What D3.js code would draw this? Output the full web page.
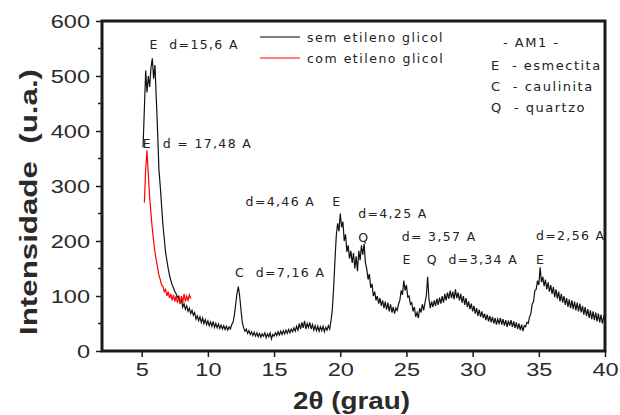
<!DOCTYPE html>
<html>
<head>
<meta charset="utf-8">
<script src="https://cdnjs.cloudflare.com/ajax/libs/d3/7.8.5/d3.min.js"></script>
<style>
  body { margin: 0; background: #fff; }
  svg { display: block; }
  .tick text { font-family: "Liberation Sans", Arial, sans-serif; font-size: 19px; fill: #2a2a2a; }
  .note { font-family: "DejaVu Sans", Verdana, sans-serif; font-size: 12.5px; fill: #222; letter-spacing: 1.35px; white-space: pre; }
  .leg { letter-spacing: 1.5px; }
</style>
</head>
<body>
<div id="chart"></div>
<script>
// XRD pattern, sample AM1 -- 2theta grid (deg) and intensity (u.a.)
const semStart = 5.1, semStep = 0.1;
const semEtileno = [
  370, 440, 510, 470, 500, 480, 515, 532, 495, 520,
  460, 400, 330, 300, 265, 230, 205, 180, 165, 150,
  138, 128, 120, 115, 108, 104, 98, 100, 88, 94,
  80, 86, 76, 82, 72, 78, 68, 74, 65, 70,
  58, 64, 55, 62, 52, 60, 50, 57, 48, 55,
  46, 53, 45, 54, 43, 50, 42, 49, 41, 47,
  40, 46, 39, 45, 38, 44, 40, 48, 52, 65,
  85, 105, 117, 100, 75, 52, 42, 36, 40, 32,
  37, 30, 35, 28, 34, 27, 33, 26, 32, 25,
  31, 27, 33, 24, 31, 26, 33, 22, 30, 27,
  33, 28, 35, 29, 36, 30, 37, 31, 38, 32,
  39, 33, 40, 35, 42, 36, 45, 38, 50, 40,
  52, 42, 55, 40, 50, 43, 52, 40, 48, 38,
  46, 37, 45, 36, 44, 37, 45, 35, 43, 38,
  46, 40, 55, 75, 115, 165, 210, 232, 218, 250,
  225, 235, 200, 212, 180, 192, 168, 182, 160, 178,
  150, 172, 145, 182, 165, 192, 175, 195, 160, 150,
  130, 140, 115, 122, 100, 108, 92, 100, 86, 96,
  82, 92, 78, 90, 75, 88, 72, 85, 70, 80,
  68, 78, 74, 85, 92, 110, 102, 128, 110, 120,
  98, 100, 85, 88, 72, 80, 62, 70, 60, 78,
  70, 85, 74, 88, 100, 135, 95, 78, 90, 80,
  92, 82, 95, 84, 97, 86, 100, 88, 104, 92,
  106, 95, 110, 96, 108, 94, 112, 96, 106, 92,
  104, 88, 100, 84, 96, 80, 90, 76, 86, 72,
  82, 68, 78, 64, 75, 62, 72, 60, 68, 56,
  66, 54, 64, 52, 62, 50, 60, 48, 58, 50,
  60, 48, 58, 46, 56, 44, 55, 46, 56, 44,
  54, 42, 52, 40, 50, 38, 48, 36, 46, 44,
  52, 50, 62, 68, 85, 90, 110, 112, 128, 120,
  152, 125, 135, 118, 130, 112, 125, 108, 120, 104,
  116, 98, 112, 95, 108, 90, 104, 88, 100, 84,
  96, 80, 94, 78, 92, 76, 90, 74, 88, 72,
  86, 70, 82, 66, 80, 64, 76, 60, 74, 58,
  72, 56, 70, 54, 68, 52, 66, 50, 62, 55
];
const comStart = 5.2, comStep = 0.1;
const comEtileno = [
  270, 330, 365, 320, 280, 250, 222, 200, 180, 165,
  152, 138, 130, 120, 118, 108, 112, 100, 108, 96,
  104, 92, 102, 90, 100, 88, 98, 86, 100, 88,
  104, 90, 100, 92, 102, 95
];

const xTicks = [5, 10, 15, 20, 25, 30, 35, 40];
const yTicks = [0, 100, 200, 300, 400, 500, 600];
const yMinor = [50, 150, 250, 350, 450, 550];

const legendItems = ["sem etileno glicol", "com etileno glicol"];
const legendColors = ["#000000", "#ff0000"];
const keyLines = ["- AM1 -", "E  - esmectita", "C  - caulinita", "Q  - quartzo"];

// peak labels, anchored at (2theta, intensity)
const peakNotes = [
  { t: 5.58, v: 550, s: "E  d=15,6 A" },
  { t: 5.08, v: 369, s: "E  d = 17,48 A" },
  { t: 12.85, v: 264, s: "d=4,46 A" },
  { t: 19.4, v: 264, s: "E" },
  { t: 12.05, v: 135, s: "C  d=7,16 A" },
  { t: 21.35, v: 241, s: "d=4,25 A" },
  { t: 21.35, v: 199, s: "Q" },
  { t: 24.64, v: 200, s: "d= 3,57 A" },
  { t: 24.7, v: 159, s: "E" },
  { t: 26.53, v: 159, s: "Q  d=3,34 A" },
  { t: 34.78, v: 202, s: "d=2,56 A" },
  { t: 34.78, v: 159, s: "E" }
];

const W = 620, H = 415;
const margin = { top: 21, right: 15, bottom: 64, left: 102 };

const svg = d3.select("#chart").append("svg")
  .attr("width", W).attr("height", H);

const x = d3.scaleLinear().domain([2, 40]).range([margin.left, W - margin.right]);
const y = d3.scaleLinear().domain([0, 600]).range([H - margin.bottom, margin.top]);

const semData = semEtileno.map((v, i) => [semStart + i * semStep, v]);
const comData = comEtileno.map((v, i) => [comStart + i * comStep, v]);

const line = d3.line().x(d => x(d[0])).y(d => y(d[1]));

svg.append("path").datum(semData)
  .attr("fill", "none").attr("stroke", "#111").attr("stroke-width", 1.2)
  .attr("d", line);

svg.append("path").datum(comData)
  .attr("fill", "none").attr("stroke", "#ff0000").attr("stroke-width", 1.2)
  .attr("d", line);

// axes
const frameColor = "#1a1a1a";
const xAxis = svg.append("g")
  .attr("transform", `translate(0,${y(0)})`)
  .call(d3.axisBottom(x).tickValues(xTicks).tickSize(6).tickPadding(6));
const yAxis = svg.append("g")
  .attr("transform", `translate(${x(2)},0)`)
  .call(d3.axisLeft(y).tickValues(yTicks).tickSize(6).tickPadding(6));

svg.append("g").selectAll("line")
  .data(yMinor)
  .join("line")
  .attr("x1", x(2) - 4).attr("x2", x(2))
  .attr("y1", d => y(d)).attr("y2", d => y(d))
  .attr("stroke", frameColor).attr("stroke-width", 1.5);

[xAxis, yAxis].forEach(a => {
  a.select(".domain").remove();
  a.selectAll(".tick line").attr("stroke", frameColor).attr("stroke-width", 1.5);
  // the original's lettering is a little wide
  a.selectAll(".tick text").each(function () {
    const w = this.getComputedTextLength();
    d3.select(this).attr("textLength", w * 1.24).attr("lengthAdjust", "spacingAndGlyphs");
  });
});

// axis titles
svg.append("text")
  .attr("x", 293).attr("y", 409)
  .attr("textLength", 117).attr("lengthAdjust", "spacingAndGlyphs")
  .style("font-family", "Liberation Sans, Arial, sans-serif")
  .style("font-weight", "bold").style("font-size", "24px").style("fill", "#2a2a2a")
  .text("2θ (grau)");

svg.append("text")
  .attr("transform", "translate(37,335) rotate(-90)")
  .attr("textLength", 266).attr("lengthAdjust", "spacingAndGlyphs")
  .style("font-family", "Liberation Sans, Arial, sans-serif")
  .style("font-weight", "bold").style("font-size", "24px").style("fill", "#2a2a2a")
  .style("white-space", "pre")
  .text("Intensidade  (u.a.)");

// peak notes
svg.append("g").selectAll("text")
  .data(peakNotes)
  .join("text")
  .attr("class", "note")
  .attr("x", d => x(d.t)).attr("y", d => y(d.v))
  .text(d => d.s);

// legend
const leg = svg.append("g").selectAll("g")
  .data(legendItems)
  .join("g")
  .attr("transform", (d, i) => `translate(260,${37 + i * 21})`);
leg.append("line")
  .attr("x1", 0).attr("x2", 40)
  .attr("stroke", (d, i) => legendColors[i]).attr("stroke-width", 1);
leg.append("text")
  .attr("class", "note leg")
  .attr("x", 47).attr("y", 4.5)
  .text(d => d);

// sample key
svg.append("g").selectAll("text")
  .data(keyLines)
  .join("text")
  .attr("class", "note leg")
  .style("font-size", "13px")
  .attr("x", (d, i) => i === 0 ? 503 : 491)
  .attr("y", (d, i) => i === 0 ? 47 : 49 + i * 21)
  .text(d => d);

// frame, four sides, drawn last as one closed path
svg.append("path")
  .attr("d", `M${x(2)},${y(0)}H${x(40)}V${y(600)}H${x(2)}Z`)
  .attr("fill", "none")
  .attr("stroke", frameColor)
  .attr("stroke-width", 3);
</script>
</body>
</html>
